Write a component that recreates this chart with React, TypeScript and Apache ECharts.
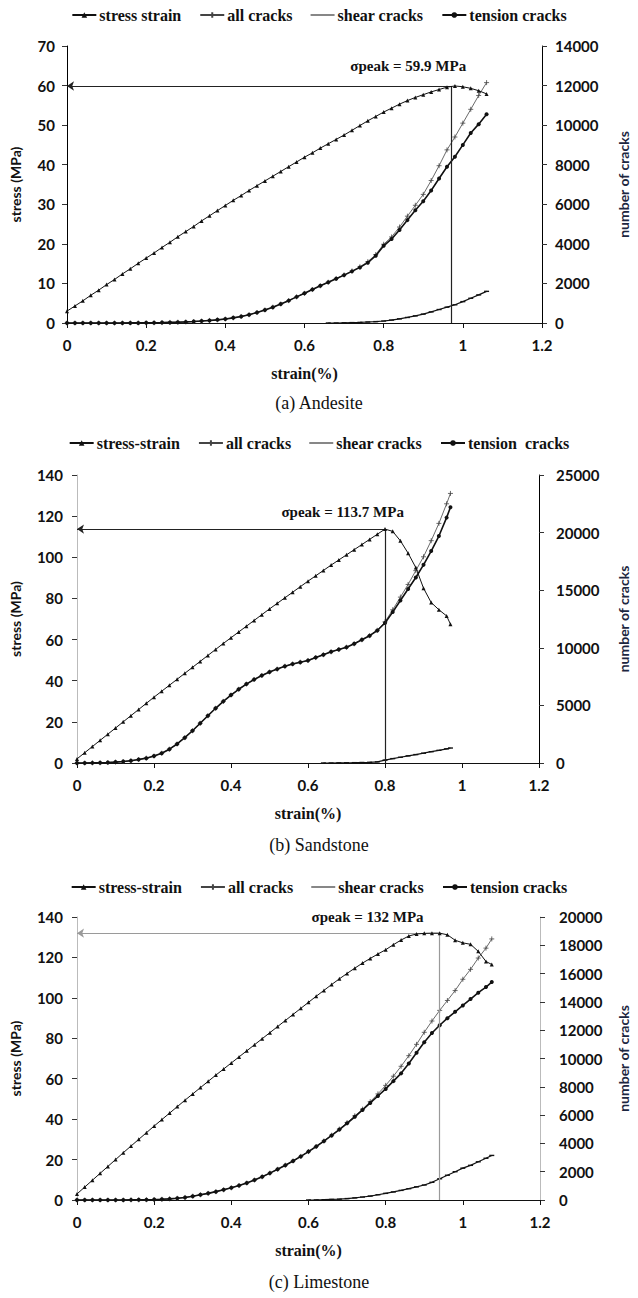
import React, { useEffect, useRef } from "react";
import * as echarts from "echarts";

// ---------- DATA ----------
// (a) Andesite
const strainA = [0, 0.02, 0.04, 0.06, 0.08, 0.1, 0.12, 0.14, 0.16, 0.18, 0.2, 0.22, 0.24, 0.26, 0.28, 0.3, 0.32, 0.34, 0.36, 0.38, 0.4, 0.42, 0.44, 0.46, 0.48, 0.5, 0.52, 0.54, 0.56, 0.58, 0.6, 0.62, 0.64, 0.66, 0.68, 0.7, 0.72, 0.74, 0.76, 0.78, 0.8, 0.82, 0.84, 0.86, 0.88, 0.9, 0.92, 0.94, 0.96, 0.98, 1.0, 1.02, 1.04, 1.06];
const stressA = [3.0, 4.3, 5.6, 7.0, 8.3, 9.7, 11.0, 12.4, 13.7, 15.1, 16.4, 17.7, 19.1, 20.4, 21.8, 23.1, 24.4, 25.8, 27.1, 28.4, 29.7, 31.0, 32.2, 33.5, 34.7, 35.9, 37.1, 38.3, 39.5, 40.7, 41.9, 43.0, 44.2, 45.3, 46.4, 47.5, 48.7, 49.9, 51.1, 52.2, 53.3, 54.3, 55.3, 56.2, 57.0, 57.7, 58.4, 59.0, 59.6, 59.9, 59.7, 59.3, 58.7, 57.9];
const tensionA = [0, 0, 0, 0, 0, 0, 0, 0, 5, 5, 10, 15, 20, 30, 40, 55, 75, 100, 130, 160, 200, 260, 330, 420, 530, 660, 800, 960, 1130, 1320, 1500, 1690, 1880, 2060, 2240, 2420, 2610, 2810, 3050, 3400, 3900, 4250, 4700, 5200, 5700, 6150, 6700, 7300, 7900, 8400, 9000, 9600, 10050, 10550];
const allA = [0, 0, 0, 0, 0, 0, 0, 0, 5, 5, 10, 15, 20, 30, 40, 55, 75, 100, 130, 160, 200, 260, 330, 420, 530, 660, 800, 960, 1130, 1320, 1500, 1690, 1880, 2060, 2250, 2430, 2630, 2840, 3100, 3460, 3980, 4350, 4850, 5400, 5950, 6500, 7200, 7950, 8750, 9400, 10100, 10800, 11500, 12150];
const shearStrainA = [0.66, 0.68, 0.7, 0.72, 0.74, 0.76, 0.78, 0.8, 0.82, 0.84, 0.86, 0.88, 0.9, 0.92, 0.94, 0.96, 0.98, 1.0, 1.02, 1.04, 1.06];
const shearA = [0, 0, 10, 20, 30, 50, 70, 100, 150, 210, 280, 360, 450, 560, 680, 800, 920, 1080, 1250, 1420, 1600];

// (b) Sandstone
const strainB = [0, 0.02, 0.04, 0.06, 0.08, 0.1, 0.12, 0.14, 0.16, 0.18, 0.2, 0.22, 0.24, 0.26, 0.28, 0.3, 0.32, 0.34, 0.36, 0.38, 0.4, 0.42, 0.44, 0.46, 0.48, 0.5, 0.52, 0.54, 0.56, 0.58, 0.6, 0.62, 0.64, 0.66, 0.68, 0.7, 0.72, 0.74, 0.76, 0.78, 0.8, 0.82, 0.84, 0.86, 0.88, 0.9, 0.92, 0.94, 0.96, 0.97];
const stressB = [2, 5, 8, 11, 14, 17, 20, 23, 26, 29, 32, 34.9, 37.8, 40.7, 43.6, 46.5, 49.4, 52.3, 55.2, 58.1, 60.9, 63.7, 66.5, 69.3, 72.1, 74.9, 77.6, 80.3, 83.0, 85.7, 88.4, 91.0, 93.6, 96.2, 98.7, 101.2, 103.7, 106.2, 108.7, 111.2, 113.7, 112.6, 108, 102, 95, 85, 78, 74.5, 71.5, 67.5];
const tensionB = [0, 0, 10, 20, 40, 80, 130, 200, 300, 420, 600, 850, 1200, 1650, 2200, 2800, 3450, 4100, 4750, 5350, 5900, 6400, 6850, 7250, 7600, 7900, 8150, 8400, 8600, 8750, 8900, 9150, 9400, 9650, 9850, 10050, 10350, 10700, 11050, 11500, 12150, 13100, 14100, 15100, 16100, 17200, 18400, 19700, 21300, 22200];
const allB = [0, 0, 10, 20, 40, 80, 130, 200, 300, 420, 600, 850, 1200, 1650, 2200, 2800, 3450, 4100, 4750, 5350, 5900, 6400, 6850, 7250, 7600, 7900, 8150, 8400, 8600, 8750, 8900, 9150, 9400, 9650, 9850, 10050, 10350, 10700, 11050, 11520, 12250, 13300, 14400, 15500, 16700, 17900, 19300, 20800, 22500, 23400];
const shearStrainB = [0.64, 0.66, 0.68, 0.7, 0.72, 0.74, 0.76, 0.78, 0.8, 0.82, 0.84, 0.86, 0.88, 0.9, 0.92, 0.94, 0.96, 0.97];
const shearB = [0, 0, 10, 20, 30, 45, 60, 100, 250, 380, 500, 620, 730, 850, 980, 1100, 1230, 1300];

// (c) Limestone
const strainC = [0, 0.02, 0.04, 0.06, 0.08, 0.1, 0.12, 0.14, 0.16, 0.18, 0.2, 0.22, 0.24, 0.26, 0.28, 0.3, 0.32, 0.34, 0.36, 0.38, 0.4, 0.42, 0.44, 0.46, 0.48, 0.5, 0.52, 0.54, 0.56, 0.58, 0.6, 0.62, 0.64, 0.66, 0.68, 0.7, 0.72, 0.74, 0.76, 0.78, 0.8, 0.82, 0.84, 0.86, 0.88, 0.9, 0.92, 0.94, 0.96, 0.98, 1.0, 1.02, 1.04, 1.06, 1.075];
const stressC = [3, 6.4, 9.8, 13.2, 16.6, 20, 23.4, 26.7, 30, 33.3, 36.6, 39.8, 43, 46.2, 49.4, 52.5, 55.6, 58.7, 61.8, 64.8, 67.8, 70.8, 73.8, 76.8, 79.8, 82.8, 85.8, 88.8, 91.8, 94.8, 97.8, 100.8, 103.7, 106.6, 109.4, 112.1, 114.7, 117.2, 119.5, 121.7, 123.8, 126.3, 128.6, 130.6, 131.6, 131.9, 132, 132, 131.2, 128.5, 127.2, 126.5, 123, 118, 116.5];
const tensionC = [0, 0, 0, 0, 0, 0, 0, 10, 15, 20, 30, 50, 80, 120, 180, 270, 370, 470, 590, 720, 860, 1020, 1200, 1410, 1640, 1900, 2170, 2460, 2760, 3080, 3420, 3780, 4160, 4560, 4980, 5420, 5880, 6360, 6860, 7350, 7850, 8400, 8950, 9650, 10400, 11150, 11800, 12350, 12850, 13300, 13750, 14200, 14650, 15050, 15400];
const allC = [0, 0, 0, 0, 0, 0, 0, 10, 15, 20, 30, 50, 80, 120, 180, 270, 370, 470, 590, 720, 860, 1020, 1200, 1410, 1640, 1900, 2170, 2460, 2760, 3080, 3420, 3780, 4170, 4580, 5010, 5470, 5950, 6420, 6950, 7500, 8100, 8750, 9450, 10200, 11000, 11850, 12650, 13400, 14100, 14800, 15600, 16300, 17100, 17800, 18450];
const shearStrainC = [0.6, 0.62, 0.64, 0.66, 0.68, 0.7, 0.72, 0.74, 0.76, 0.78, 0.8, 0.82, 0.84, 0.86, 0.88, 0.9, 0.92, 0.94, 0.96, 0.98, 1.0, 1.02, 1.04, 1.06, 1.075];
const shearC = [0, 5, 20, 40, 60, 100, 150, 210, 280, 370, 470, 570, 680, 800, 930, 1060, 1250, 1500, 1750, 2000, 2250, 2450, 2700, 2950, 3150];

// peaks
const peakStress = [59.9, 113.7, 132];
const peakStrain = [0.97, 0.8, 0.94];
const peakLabels = ["σpeak = 59.9 MPa", "σpeak = 113.7 MPa", "σpeak = 132 MPa"];

// axes
const xTicks = [0, 0.2, 0.4, 0.6, 0.8, 1, 1.2];
const stressMax = [70, 140, 140];
const stressStep = [10, 20, 20];
const cracksMax = [14000, 25000, 20000];
const cracksStep = [2000, 5000, 2000];

const legendNames = [
  ["stress strain", "all cracks", "shear cracks", "tension cracks"],
  ["stress-strain", "all cracks", "shear cracks", "tension  cracks"],
  ["stress-strain", "all cracks", "shear cracks", "tension cracks"],
];
const captions = ["(a) Andesite", "(b) Sandstone", "(c) Limestone"];

// ---------- LAYOUT ----------
const SANS = "Lato, 'Open Sans', sans-serif";
const SERIF = "'Liberation Serif', 'DejaVu Serif', 'Times New Roman', serif";
const DASH_ICON = "path://M0,0L0.05,0L0,0.05Z M0,2.9L24,2.9L24,4.1L0,4.1Z M24,7L23.95,7L24,6.95Z";

const layout = [
  { top: 46, height: 277, left: 65, right: 87, legendTop: 7, captionTop: 394, lblL: 12, lblR: 13, nameL: 45, nameR: 74, textAt: [0.862, 65], peakColor: "#222", axL: "#000", axR: "#000" },
  { top: 475, height: 288, left: 76, right: 91, legendTop: 435, captionTop: 836, lblL: 14, lblR: 17, nameL: 55, nameR: 77, textAt: [0.69, 122], peakColor: "#222", axL: "#bbb", axR: "#000" },
  { top: 917, height: 283, left: 75, right: 89, legendTop: 879, captionTop: 1273, lblL: 14, lblR: 19, nameL: 55, nameR: 76, textAt: [0.753, 140], peakColor: "#9a9a9a", axL: "#bbb", axR: "#bbb" },
];

const panelsData = [
  { strain: strainA, stress: stressA, tension: tensionA, all: allA, shearStrain: shearStrainA, shear: shearA },
  { strain: strainB, stress: stressB, tension: tensionB, all: allB, shearStrain: shearStrainB, shear: shearB },
  { strain: strainC, stress: stressC, tension: tensionC, all: allC, shearStrain: shearStrainC, shear: shearC },
];

const pairs = (xs: number[], ys: number[]) => xs.map((x, i) => [x, ys[i]]);
const plain = (v: number) => String(Math.round(v * 1000) / 1000);

function buildOption() {
  const grid: any[] = [];
  const xAxis: any[] = [];
  const yAxis: any[] = [];
  const series: any[] = [];
  const legend: any[] = [];
  const title: any[] = [];

  layout.forEach((L, i) => {
    const d = panelsData[i];
    grid.push({ left: L.left, right: L.right, top: L.top, height: L.height, containLabel: false });
    xAxis.push({
      type: "value",
      gridIndex: i,
      min: xTicks[0],
      max: xTicks[xTicks.length - 1],
      interval: 0.2,
      axisLine: { show: true, onZero: false, lineStyle: { color: "#111", width: 1 } },
      axisTick: { show: true, length: 5, lineStyle: { color: "#111" } },
      splitLine: { show: false },
      axisLabel: { color: "#111", fontFamily: SANS, fontWeight: "bold", fontSize: 15, margin: 14, formatter: plain },
      name: "strain(%)",
      nameLocation: "middle",
      nameGap: 42,
      nameTextStyle: { color: "#111", fontFamily: SERIF, fontWeight: "bold", fontSize: 16 },
    });
    yAxis.push({
      type: "value",
      gridIndex: i,
      position: "left",
      min: 0,
      max: stressMax[i],
      interval: stressStep[i],
      axisLine: { show: true, lineStyle: { color: L.axL, width: 1 } },
      axisTick: { show: true, length: 5, lineStyle: { color: "#333" } },
      splitLine: { show: false },
      axisLabel: { color: "#111", fontFamily: SANS, fontWeight: "bold", fontSize: 15, margin: L.lblL, formatter: plain },
      name: "stress (MPa)",
      nameLocation: "middle",
      nameGap: L.nameL,
      nameTextStyle: { color: "#111", fontFamily: SANS, fontWeight: "bold", fontSize: 14 },
    });
    yAxis.push({
      type: "value",
      gridIndex: i,
      position: "right",
      min: 0,
      max: cracksMax[i],
      interval: cracksStep[i],
      axisLine: { show: true, lineStyle: { color: L.axR, width: 1 } },
      axisTick: { show: true, length: 5, lineStyle: { color: "#333" } },
      splitLine: { show: false },
      axisLabel: { color: "#111", fontFamily: SANS, fontWeight: "bold", fontSize: 15, margin: L.lblR, formatter: plain },
      name: "number of cracks",
      nameLocation: "middle",
      nameGap: L.nameR,
      nameTextStyle: { color: "#1c2640", fontFamily: SANS, fontWeight: "bold", fontSize: 14 },
    });

    const names = legendNames[i];
    series.push({
      type: "line",
      name: names[0],
      xAxisIndex: i,
      yAxisIndex: 2 * i,
      data: pairs(d.strain, d.stress),
      symbol: "triangle",
      symbolSize: 4,
      showSymbol: true,
      lineStyle: { color: "#111", width: 1 },
      itemStyle: { color: "#111" },
      z: 5,
      markLine: {
        silent: true,
        symbol: ["arrow", "none"],
        symbolSize: 7,
        label: { show: false },
        lineStyle: { color: L.peakColor, width: 1.2, type: "solid" },
        data: [
          [{ coord: [0, peakStress[i]] }, { coord: [peakStrain[i], peakStress[i]] }],
          [
            { coord: [peakStrain[i], peakStress[i]], symbol: "none" },
            { coord: [peakStrain[i], 0], symbol: "none" },
          ],
        ],
      },
      markPoint: {
        silent: true,
        symbol: "circle",
        symbolSize: 0,
        data: [
          {
            coord: L.textAt,
            label: {
              show: true,
              position: "inside",
              formatter: peakLabels[i],
              color: "#111",
              fontFamily: SERIF,
              fontWeight: "bold",
              fontSize: 15,
            },
          },
        ],
      },
    });
    series.push({
      type: "line",
      name: names[1],
      xAxisIndex: i,
      yAxisIndex: 2 * i + 1,
      data: pairs(d.strain, d.all),
      symbol: "path://M5,0L5,10M0,5L10,5",
      symbolSize: 5,
      lineStyle: { color: "#444", width: 0.8 },
      itemStyle: { color: "#444", borderColor: "#444", borderWidth: 0.8 },
      z: 3,
    });
    series.push({
      type: "line",
      name: names[2],
      xAxisIndex: i,
      yAxisIndex: 2 * i + 1,
      data: pairs(d.shearStrain, d.shear),
      symbol: "rect",
      symbolSize: [5, 1.4],
      lineStyle: { color: "#111", width: 1.2 },
      itemStyle: { color: "#111" },
      z: 3,
    });
    series.push({
      type: "line",
      name: names[3],
      xAxisIndex: i,
      yAxisIndex: 2 * i + 1,
      data: pairs(d.strain, d.tension),
      symbol: "circle",
      symbolSize: 4,
      lineStyle: { color: "#111", width: 1.6 },
      itemStyle: { color: "#111" },
      z: 4,
    });

    legend.push({
      data: [names[0], names[1], { name: names[2], icon: DASH_ICON }, names[3]],
      top: L.legendTop,
      left: "center",
      padding: 0,
      itemGap: 18,
      itemWidth: 24,
      itemHeight: 7,
      selectedMode: false,
      textStyle: { color: "#111", fontFamily: SERIF, fontWeight: "bold", fontSize: 16, padding: [0, 0, 0, -2] },
    });
    title.push({
      text: captions[i],
      left: "center",
      top: L.captionTop,
      padding: 0,
      textStyle: { color: "#111", fontFamily: SERIF, fontWeight: "normal", fontSize: 18 },
    });
  });

  return {
    animation: false,
    backgroundColor: "#ffffff",
    title,
    legend,
    grid,
    xAxis,
    yAxis,
    series,
  };
}

export default function App() {
  const ref = useRef<HTMLDivElement>(null);
  useEffect(() => {
    if (!ref.current) return;
    const chart = echarts.init(ref.current, null, { renderer: "svg" });
    chart.setOption(buildOption() as any);
    return () => chart.dispose();
  }, []);
  return (
    <div
      ref={ref}
      style={{ position: "absolute", left: 0, top: 0, width: 638, height: 1298, background: "#fff" }}
    />
  );
}
